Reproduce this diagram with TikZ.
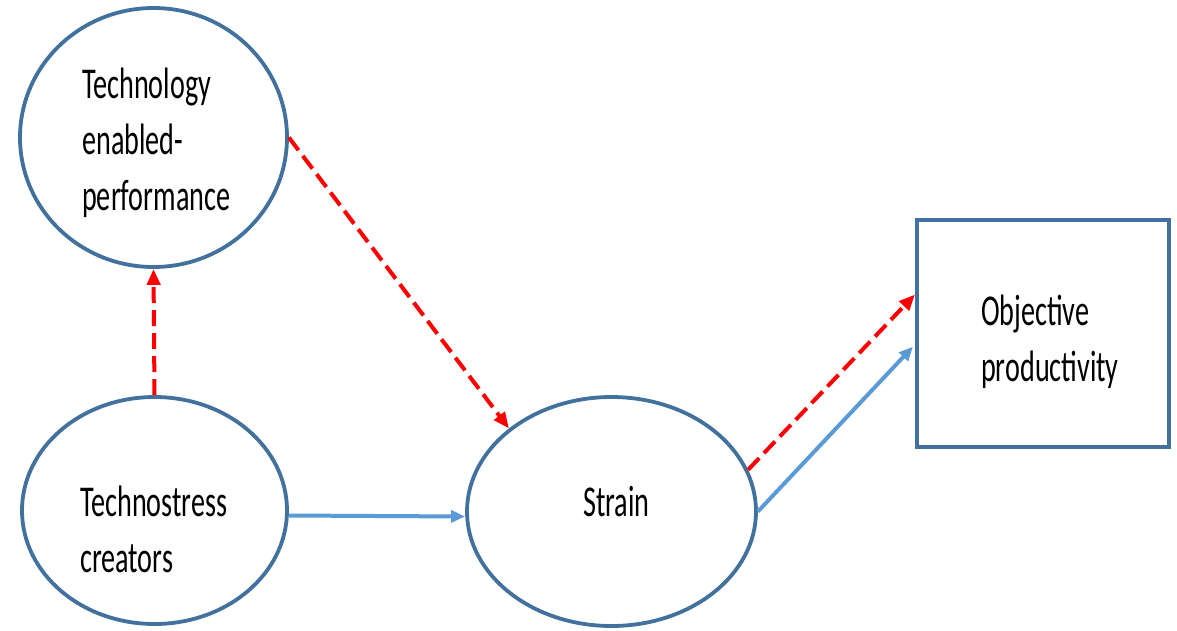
\documentclass[tikz,border=0pt]{standalone}
\usepackage{fontspec}
\newfontfamily\lblfont[FakeStretch=0.64]{Carlito}
\usetikzlibrary{shapes.geometric,arrows.meta}
\definecolor{edgeblue}{HTML}{41719C}
\definecolor{arrblue}{HTML}{5B9BD5}
\definecolor{arrred}{HTML}{FF0000}
\tikzset{
  oval/.style={ellipse, draw=edgeblue, line width=3.8pt, fill=white, inner sep=0pt},
  boxnode/.style={rectangle, draw=edgeblue, line width=4pt, fill=white, inner sep=0pt},
  lbl/.style={font=\lblfont\fontsize{44}{56}\selectfont, align=left, inner sep=0pt, anchor=west, text=black},
  redarrow/.style={draw=arrred, line width=4pt, dash pattern=on 16pt off 7pt, -{Triangle[length=16pt,width=13pt]}},
  bluearrow/.style={draw=arrblue, line width=4pt, -{Triangle[length=14pt,width=12pt]}}
}
\begin{document}
\begin{tikzpicture}[x=1pt,y=-1pt]
\useasboundingbox (0,0) rectangle (1177,630);
\node[oval, minimum width=267pt, minimum height=259pt] (tep) at (153.5,137.5) {};
\node[oval, minimum width=265pt, minimum height=227pt] (tsc) at (154.5,510.5) {};
\node[oval, minimum width=289pt, minimum height=229pt] (str) at (611.5,511.5) {};
\node[boxnode, minimum width=252pt, minimum height=227pt] (obj) at (1043,333.5) {};
\node[lbl] (tepT) at (82,143) {Technology\\enabled-\\performance};
\node[lbl] (tscT) at (80,529) {Technostress\\creators};
\node[lbl] (strT) at (583,502) {Strain};
\node[lbl] (objT) at (981,342) {Objective\\productivity};
\draw[redarrow] (tsc.north) -- (tep.south);
\draw[redarrow] (tep.east) -- (str.141);
\draw[bluearrow] ([yshift=-5pt]tsc.east) -- ([yshift=-5pt]str.west);
\draw[redarrow] (str.17) -- ([yshift=39pt]obj.west);
\draw[bluearrow, shorten >=3pt] (str.east) -- ([yshift=-11pt]obj.west);
\end{tikzpicture}
\end{document}
